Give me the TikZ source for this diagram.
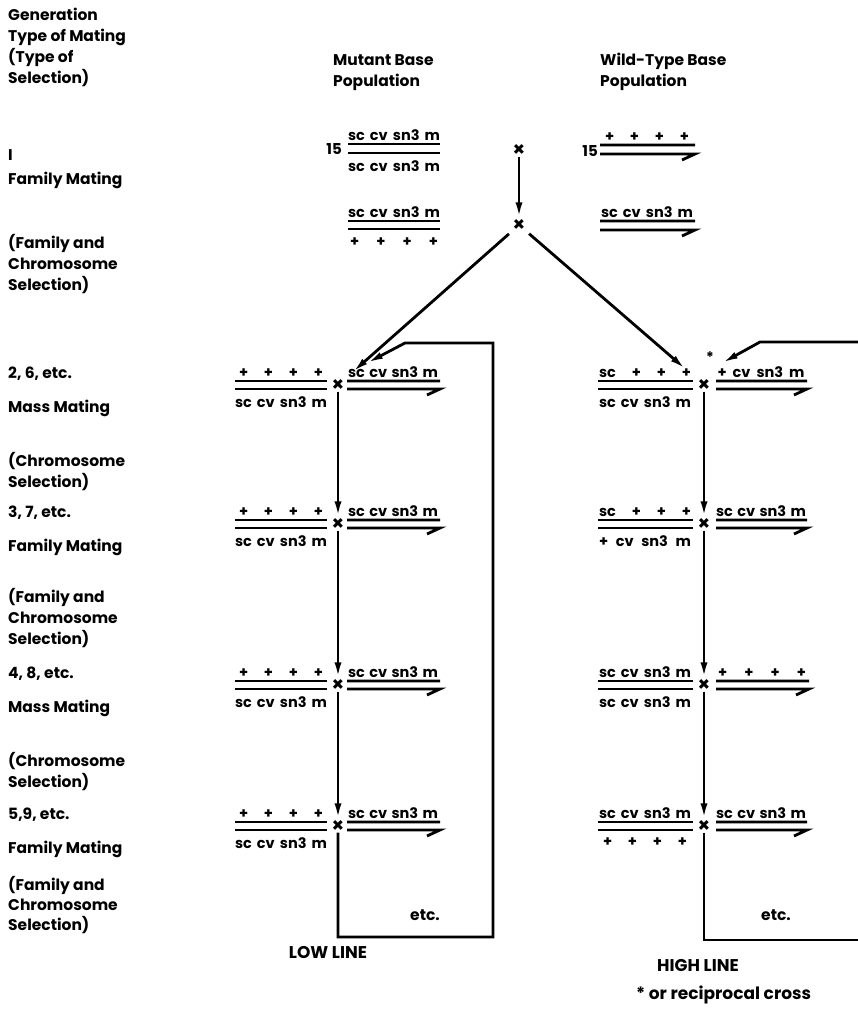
\documentclass[tikz,border=0pt]{standalone}
\usepackage{fontspec}
\setmainfont{Poppins}
\usetikzlibrary{calc, positioning, arrows.meta}

\begin{document}
\begin{tikzpicture}[x=1pt, y=-1pt,
    lbl/.style={anchor=base west, inner sep=0pt, font=\fontsize{15.5}{17}\selectfont\bfseries},
    gene/.style={anchor=base, inner sep=0pt, font=\fontsize{14.5}{16}\selectfont\bfseries},
    num/.style={anchor=base east, inner sep=0pt, font=\fontsize{15}{16}\selectfont\bfseries},
    cross/.style={inner sep=0.5pt, font=\fontsize{20}{20}\selectfont\bfseries},
    big/.style={anchor=base, inner sep=0pt, font=\fontsize{17}{19}\selectfont\bfseries},
    chrom/.style={line width=2.8pt},
    flow/.style={line width=2.8pt, -{Latex[length=16pt, width=7pt]}}]
  \useasboundingbox (0,0) rectangle (858,1009);

  % row labels
  \node[lbl] (hd1) at (8,20) {Generation};
  \node[lbl] (hd2) at (8,41) {Type of Mating};
  \node[lbl] (hd3) at (8,62) {(Type of};
  \node[lbl] (hd4) at (8,83) {Selection)};
  \node[lbl] (mutbase) at (333,65) {Mutant Base};
  \node[lbl] (mutpop) at (333,86) {Population};
  \node[lbl] (wildbase) at (600,65) {Wild-Type Base};
  \node[lbl] (wildpop) at (600,86) {Population};

  \node[lbl] (g1) at (8,160) {I};
  \node[lbl] (g1m) at (8,184) {Family Mating};
  \node[lbl] (g1a) at (8,248) {(Family and};
  \node[lbl] (g1b) at (8,269) {Chromosome};
  \node[lbl] (g1c) at (8,290) {Selection)};
  \node[lbl] (g2) at (8,378) {2, 6, etc.};
  \node[lbl] (g2m) at (8,412) {Mass Mating};
  \node[lbl] (g2a) at (8,466) {(Chromosome};
  \node[lbl] (g2b) at (8,487) {Selection)};
  \node[lbl] (g3) at (8,517) {3, 7, etc.};
  \node[lbl] (g3m) at (8,551) {Family Mating};
  \node[lbl] (g3a) at (8,602) {(Family and};
  \node[lbl] (g3b) at (8,623) {Chromosome};
  \node[lbl] (g3c) at (8,644) {Selection)};
  \node[lbl] (g4) at (8,678) {4, 8, etc.};
  \node[lbl] (g4m) at (8,712) {Mass Mating};
  \node[lbl] (g4a) at (8,766) {(Chromosome};
  \node[lbl] (g4b) at (8,787) {Selection)};
  \node[lbl] (g5) at (8,819) {5,9, etc.};
  \node[lbl] (g5m) at (8,853) {Family Mating};
  \node[lbl] (g5a) at (8,890) {(Family and};
  \node[lbl] (g5b) at (8,910) {Chromosome};
  \node[lbl] (g5c) at (8,930) {Selection)};

  % base populations
  \node[num] (m0n) at (342,154) {15};
  \node[gene] (m0a) at (394,140) {\makebox[92pt][s]{sc cv sn3 m}};
  \node[gene] (m0b) at (394,171) {\makebox[92pt][s]{sc cv sn3 m}};
  \draw[chrom] (348,144) -- (440,144) (348,153) -- (440,153);
  \node[num] (w0n) at (598,156) {15};
  \node[gene] (w0a) at (647,141) {\makebox[84pt][s]{+ + + +}};
  \draw[chrom] (600,145) -- (695,145) (600,154) -- (695,154) -- ++(-13,6);
  \node[cross] (xtop) at (519,150) {×};

  % generation I
  \node[gene] (m1a) at (394,217) {\makebox[92pt][s]{sc cv sn3 m}};
  \node[gene] (m1b) at (394,246) {\makebox[88pt][s]{+ + + +}};
  \draw[chrom] (348,221) -- (440,221) (348,229) -- (440,229);
  \node[gene] (w1a) at (647,217) {\makebox[92pt][s]{sc cv sn3 m}};
  \draw[chrom] (600,221) -- (695,221) (600,230) -- (695,230) -- ++(-13,6);
  \node[cross] (xf1) at (519,225) {×};

  % low line
  \node[gene] (l2a) at (281,377) {\makebox[84pt][s]{+ + + +}};
  \node[gene] (l2b) at (281,407) {\makebox[92pt][s]{sc cv sn3 m}};
  \draw[chrom] (235,381) -- (327,381) (235,389) -- (327,389);
  \node[gene] (l2c) at (393,377) {\makebox[90pt][s]{sc cv sn3 m}};
  \draw[chrom] (347,381) -- (440,381) (347,389) -- (440,389) -- ++(-13,6);
  \node[cross] (xl2) at (338,385) {×};

  \node[gene] (l3a) at (281,516) {\makebox[84pt][s]{+ + + +}};
  \node[gene] (l3b) at (281,546) {\makebox[92pt][s]{sc cv sn3 m}};
  \draw[chrom] (235,520) -- (327,520) (235,528) -- (327,528);
  \node[gene] (l3c) at (393,516) {\makebox[90pt][s]{sc cv sn3 m}};
  \draw[chrom] (347,520) -- (440,520) (347,528) -- (440,528) -- ++(-13,6);
  \node[cross] (xl3) at (338,524) {×};

  \node[gene] (l4a) at (281,677) {\makebox[84pt][s]{+ + + +}};
  \node[gene] (l4b) at (281,707) {\makebox[92pt][s]{sc cv sn3 m}};
  \draw[chrom] (235,681) -- (327,681) (235,689) -- (327,689);
  \node[gene] (l4c) at (393,677) {\makebox[90pt][s]{sc cv sn3 m}};
  \draw[chrom] (347,681) -- (440,681) (347,689) -- (440,689) -- ++(-13,6);
  \node[cross] (xl4) at (338,685) {×};

  \node[gene] (l5a) at (281,818) {\makebox[84pt][s]{+ + + +}};
  \node[gene] (l5b) at (281,848) {\makebox[92pt][s]{sc cv sn3 m}};
  \draw[chrom] (235,822) -- (327,822) (235,830) -- (327,830);
  \node[gene] (l5c) at (393,818) {\makebox[90pt][s]{sc cv sn3 m}};
  \draw[chrom] (347,822) -- (440,822) (347,830) -- (440,830) -- ++(-13,6);
  \node[cross] (xl5) at (338,826) {×};

  % high line
  \node[gene] (h2a) at (645,377) {\makebox[92pt][s]{sc + + +}};
  \node[gene] (h2b) at (645,407) {\makebox[92pt][s]{sc cv sn3 m}};
  \draw[chrom] (598,381) -- (693,381) (598,389) -- (693,389);
  \node[gene] (h2c) at (761,377) {\makebox[87pt][s]{+ cv sn3 m}};
  \draw[chrom] (716,381) -- (807,381) (716,389) -- (807,389) -- ++(-13,6);
  \node[cross] (xh2) at (704,385) {×};
  \node[gene] (recip) at (710,362) {*};

  \node[gene] (h3a) at (645,516) {\makebox[92pt][s]{sc + + +}};
  \node[gene] (h3b) at (645,546) {\makebox[92pt][s]{+ cv sn3 m}};
  \draw[chrom] (598,520) -- (693,520) (598,528) -- (693,528);
  \node[gene] (h3c) at (761,516) {\makebox[90pt][s]{sc cv sn3 m}};
  \draw[chrom] (716,520) -- (807,520) (716,528) -- (807,528) -- ++(-13,6);
  \node[cross] (xh3) at (704,524) {×};

  \node[gene] (h4a) at (645,677) {\makebox[92pt][s]{sc cv sn3 m}};
  \node[gene] (h4b) at (645,707) {\makebox[92pt][s]{sc cv sn3 m}};
  \draw[chrom] (598,681) -- (693,681) (598,689) -- (693,689);
  \node[gene] (h4c) at (762,677) {\makebox[88pt][s]{+ + + +}};
  \draw[chrom] (716,681) -- (809,681) (716,689) -- (809,689) -- ++(-13,6);
  \node[cross] (xh4) at (704,685) {×};

  \node[gene] (h5a) at (645,818) {\makebox[92pt][s]{sc cv sn3 m}};
  \node[gene] (h5b) at (645,846) {\makebox[84pt][s]{+ + + +}};
  \draw[chrom] (598,822) -- (693,822) (598,830) -- (693,830);
  \node[gene] (h5c) at (761,818) {\makebox[90pt][s]{sc cv sn3 m}};
  \draw[chrom] (716,822) -- (807,822) (716,830) -- (807,830) -- ++(-13,6);
  \node[cross] (xh5) at (704,826) {×};

  % crosses
  \draw[flow] (xtop) -- (xf1);
  \draw[flow, shorten <=4pt, shorten >=10pt] (xf1) -- (xl2);
  \draw[flow, shorten <=4pt, shorten >=15pt] (xf1) -- (xh2);
  \draw[flow] (xl2) -- (xl3);
  \draw[flow] (xl3) -- (xl4);
  \draw[flow] (xl4) -- (xl5);
  \draw[flow] (xh2) -- (xh3);
  \draw[flow] (xh3) -- (xh4);
  \draw[flow] (xh4) -- (xh5);

  % return loops
  \coordinate (lowbot) at (493,937);
  \coordinate (lowtop) at (493,343);
  \coordinate (lowbend) at (405,343);
  \coordinate (lowin) at (367,363);
  \draw[flow] (xl5) |- (lowbot) -- (lowtop) -- (lowbend) -- (lowin);
  \coordinate (highout) at (858,940);
  \coordinate (highstart) at (858,342);
  \coordinate (highbend) at (760,342);
  \coordinate (highin) at (722,363);
  \draw[chrom] (xh5) |- (highout);
  \draw[flow] (highstart) -- (highbend) -- (highin);

  \node[lbl, anchor=base] (etclow) at (425,920) {etc.};
  \node[lbl, anchor=base] (etchigh) at (776,920) {etc.};
  \node[big] (lowline) at (328,958) {LOW LINE};
  \node[big] (highline) at (698,971) {HIGH LINE};
  \node[big, anchor=base west] (foot) at (636,999) {* or reciprocal cross};
\end{tikzpicture}
\end{document}
